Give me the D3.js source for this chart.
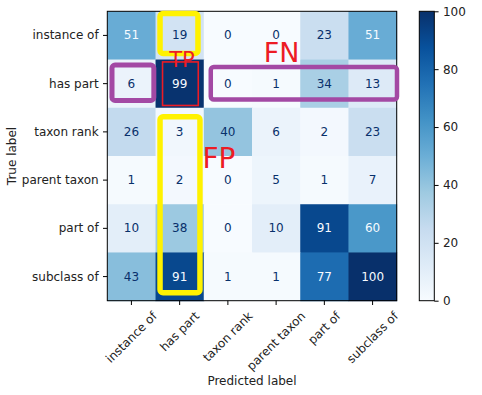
<!DOCTYPE html>
<html>
<head>
<meta charset="utf-8">
<script src="https://cdn.jsdelivr.net/npm/d3@7"></script>
<style>
  body { margin: 0; background: #fff; }
  svg { display: block; font-family: "DejaVu Sans", sans-serif; }
</style>
</head>
<body>
<svg id="chart" width="482" height="395"></svg>
<script>
// labels (same for rows and columns)
const labels = ["instance of", "has part", "taxon rank", "parent taxon", "part of", "subclass of"];
// confusion matrix, rows = true label, cols = predicted label
const row0 = [51, 19, 0, 0, 23, 51];
const row1 = [6, 99, 0, 1, 34, 13];
const row2 = [26, 3, 40, 6, 2, 23];
const row3 = [1, 2, 0, 5, 1, 7];
const row4 = [10, 38, 0, 10, 91, 60];
const row5 = [43, 91, 1, 1, 77, 100];
const matrix = [row0, row1, row2, row3, row4, row5];
const cbTicks = [0, 20, 40, 60, 80, 100];

const svg = d3.select("#chart");
const fs = 12;      // font size
const tk = 4.3;     // tick length / pad

// axes box  (don't call it "top", that's window.top!)
const axLeft = 107.3, axTop = 11.3, size = 289.4;
const x = d3.scaleBand().domain(d3.range(labels.length)).range([axLeft, axLeft + size]);
const y = d3.scaleBand().domain(d3.range(labels.length)).range([axTop, axTop + size]);

// matplotlib "Blues"
const bluesStops = ["#f7fbff", "#deebf7", "#c6dbef", "#9ecae1", "#6baed6", "#4292c6", "#2171b5", "#08519c", "#08306b"];
const color = d3.scaleLinear()
  .domain(bluesStops.map((d, i) => i * 100 / (bluesStops.length - 1)))
  .range(bluesStops)
  .interpolate(d3.interpolateRgb)
  .clamp(true);

const cells = [];
matrix.forEach((r, i) => r.forEach((v, j) => cells.push({ i, j, v })));

svg.append("g").selectAll("rect")
  .data(cells)
  .enter().append("rect")
  .attr("x", d => x(d.j))
  .attr("y", d => y(d.i))
  .attr("width", x.bandwidth() + 0.5)
  .attr("height", y.bandwidth() + 0.5)
  .attr("fill", d => color(d.v));

svg.append("g").selectAll("text")
  .data(cells)
  .enter().append("text")
  .attr("x", d => x(d.j) + x.bandwidth() / 2)
  .attr("y", d => y(d.i) + y.bandwidth() / 2)
  .attr("text-anchor", "middle")
  .attr("dominant-baseline", "central")
  .attr("font-size", fs)
  .attr("fill", d => d.v > 50 ? "#f7fbff" : "#08306b")
  .text(d => d.v);

// frame
svg.append("rect")
  .attr("x", axLeft).attr("y", axTop).attr("width", size).attr("height", size)
  .attr("fill", "none").attr("stroke", "#000").attr("stroke-width", 1);

// y axis
const yAxis = svg.append("g");
labels.forEach((l, i) => {
  const cy = y(i) + y.bandwidth() / 2;
  yAxis.append("line").attr("x1", axLeft - tk).attr("x2", axLeft).attr("y1", cy).attr("y2", cy)
    .attr("stroke", "#000").attr("stroke-width", 1);
  yAxis.append("text").attr("x", axLeft - 2 * tk).attr("y", cy)
    .attr("text-anchor", "end").attr("dominant-baseline", "central")
    .attr("font-size", fs).attr("fill", "#222").text(l);
});

// x axis, labels rotated 45 and centred under tick
const xAxis = svg.append("g");
const axBottom = axTop + size;
labels.forEach((l, j) => {
  const cx = x(j) + x.bandwidth() / 2;
  xAxis.append("line").attr("x1", cx).attr("x2", cx).attr("y1", axBottom).attr("y2", axBottom + tk)
    .attr("stroke", "#000").attr("stroke-width", 1);
  const t = xAxis.append("text")
    .attr("text-anchor", "middle").attr("dominant-baseline", "central")
    .attr("font-size", fs).attr("fill", "#222").text(l);
  const w = t.node().getComputedTextLength();
  const h = fs * 1.1;
  const cy = axBottom + 2 * tk + (w + h) * Math.SQRT1_2 / 2;
  t.attr("transform", `translate(${cx},${cy}) rotate(-45)`);
});

svg.append("text")
  .attr("x", axLeft + size / 2).attr("y", 381)
  .attr("text-anchor", "middle").attr("dominant-baseline", "central")
  .attr("font-size", fs).attr("fill", "#222").text("Predicted label");

svg.append("text")
  .attr("transform", `translate(12,${axTop + size / 2}) rotate(-90)`)
  .attr("text-anchor", "middle").attr("dominant-baseline", "central")
  .attr("font-size", fs).attr("fill", "#222").text("True label");

// colorbar
const cbX = 419.3, cbW = 15;
const cbScale = d3.scaleLinear().domain([0, 100]).range([axBottom, axTop]);
const defs = svg.append("defs");
const grad = defs.append("linearGradient").attr("id", "cbgrad")
  .attr("x1", 0).attr("y1", 1).attr("x2", 0).attr("y2", 0);
bluesStops.forEach((c, i) => {
  grad.append("stop").attr("offset", i / (bluesStops.length - 1)).attr("stop-color", c);
});
svg.append("rect")
  .attr("x", cbX).attr("y", axTop).attr("width", cbW).attr("height", size)
  .attr("fill", "url(#cbgrad)").attr("stroke", "#000").attr("stroke-width", 1);

const cbAxis = d3.axisRight(cbScale).tickValues(cbTicks).tickSize(tk).tickPadding(tk);
const cbG = svg.append("g").attr("transform", `translate(${cbX + cbW},0)`).call(cbAxis);
cbG.select(".domain").remove();
cbG.selectAll("line").attr("stroke-width", 1);
cbG.selectAll("text").attr("font-size", fs).attr("font-family", "DejaVu Sans, sans-serif").attr("fill", "#222");

// hand-drawn annotations, placed relative to the cells
const ann = svg.append("g").attr("fill", "none");
const cellL = j => x(j), cellR = j => x(j) + x.bandwidth();
const cellT = i => y(i), cellB = i => y(i) + y.bandwidth();
function box(x1, y1, x2, y2, stroke, sw, rx) {
  ann.append("rect").attr("x", x1).attr("y", y1).attr("width", x2 - x1).attr("height", y2 - y1)
    .attr("rx", rx).attr("stroke", stroke).attr("stroke-width", sw);
}
const yellow = "#fff200", purple = "#a349a4", red = "#ed1c24";
box(cellL(1) + 4.5, cellT(0) + 2.2, cellR(1) - 5.8, cellB(0) - 6, yellow, 5.5, 3);
box(cellL(1) + 4.5, cellT(2) + 9, cellR(1) - 3.8, cellB(5) - 8, yellow, 5.5, 3);
box(cellL(1) + 7, cellT(1) + 2.4, cellR(1) - 5.5, cellB(1) - 2.3, red, 1.6, 0);
box(cellL(0) + 4.7, cellT(1) + 5.5, cellR(0) - 1.7, cellB(1) - 7.3, purple, 5, 3);
box(cellL(2) + 7, cellT(1) + 7.5, cellR(5) + 0.3, cellB(1) - 8.3, purple, 4.5, 3);

ann.append("text").attr("x", 182).attr("y", 66.7).attr("text-anchor", "middle")
  .attr("font-size", 21).attr("fill", red).text("TP");
ann.append("text").attr("x", 281.7).attr("y", 62).attr("text-anchor", "middle")
  .attr("font-size", 27).attr("fill", red).text("FN");
ann.append("text").attr("x", 219).attr("y", 168).attr("text-anchor", "middle")
  .attr("font-size", 28).attr("fill", red).text("FP");
</script>
</body>
</html>
